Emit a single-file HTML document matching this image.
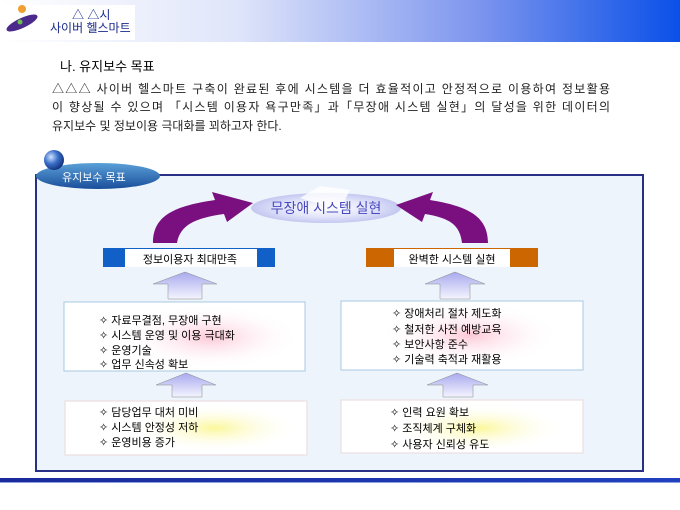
<!DOCTYPE html>
<html><head><meta charset="utf-8"><style>
body{margin:0;width:680px;height:510px;background:#fff;overflow:hidden;font-family:"Liberation Sans","Noto Sans CJK KR",sans-serif}
</style></head><body>
<svg width="680" height="510" viewBox="0 0 680 510" xmlns="http://www.w3.org/2000/svg" style="position:absolute;left:0;top:0;font-family:'Liberation Sans','Noto Sans CJK KR',sans-serif">
<defs>
<linearGradient id="hdr" x1="0" x2="1"><stop offset="0" stop-color="#fff"/><stop offset="0.35" stop-color="#dfe5fa"/><stop offset="0.7" stop-color="#7e96ee"/><stop offset="1" stop-color="#0a50e8"/></linearGradient>
<linearGradient id="line" x1="0" x2="1"><stop offset="0" stop-color="#1a2a9a"/><stop offset="1" stop-color="#2040c0"/></linearGradient>
<linearGradient id="tab" x1="0" y1="0" x2="0" y2="1"><stop offset="0" stop-color="#5aa0d8"/><stop offset="1" stop-color="#1a4e9a"/></linearGradient>
<radialGradient id="sph" cx="0.35" cy="0.35" r="0.7"><stop offset="0" stop-color="#cfe2ff"/><stop offset="0.5" stop-color="#3a6fc8"/><stop offset="1" stop-color="#12307a"/></radialGradient>
<radialGradient id="ell" cx="0.5" cy="0.5" r="0.5"><stop offset="0" stop-color="#ffffff"/><stop offset="0.6" stop-color="#e2e4fa"/><stop offset="1" stop-color="#c4c8f0"/></radialGradient>
<linearGradient id="up" x1="0" y1="0" x2="0" y2="1"><stop offset="0" stop-color="#a9a9ee"/><stop offset="1" stop-color="#f4f4ff"/></linearGradient>
<radialGradient id="pink" cx="0.5" cy="0.5" r="0.5"><stop offset="0" stop-color="#fcc8d8"/><stop offset="1" stop-color="#fff" stop-opacity="0"/></radialGradient>
<radialGradient id="yel" cx="0.5" cy="0.5" r="0.5"><stop offset="0" stop-color="#fbf79a"/><stop offset="1" stop-color="#fff" stop-opacity="0"/></radialGradient>
</defs>
<rect x="0" y="0" width="680" height="42" fill="url(#hdr)"/>
<rect x="0" y="5" width="135" height="35" fill="#fff"/>
<ellipse cx="22" cy="23" rx="17" ry="5" transform="rotate(-25 22 23)" fill="#4b2a8c"/>
<circle cx="22" cy="9" r="4" fill="#f0a030"/>
<circle cx="20" cy="22" r="2.5" fill="#6ac04a"/>
<text x="72" y="19" font-size="12" fill="#1a2a8a">△ △시</text>
<text x="50" y="32" font-size="12" fill="#1a2a8a">사이버 헬스마트</text>

<text x="60" y="71" font-size="13" fill="#000">나. 유지보수 목표</text>
<text x="52" y="93" font-size="12" fill="#222" textLength="558">△△△ 사이버 헬스마트 구축이 완료된 후에 시스템을 더 효율적이고 안정적으로 이용하여 정보활용</text>
<text x="52" y="111" font-size="12" fill="#222" textLength="558">이 향상될 수 있으며 「시스템 이용자 욕구만족」과「무장애 시스템 실현」의 달성을 위한 데이터의</text>
<text x="52" y="130" font-size="12" fill="#222">유지보수 및 정보이용 극대화를 꾀하고자 한다.</text>

<rect x="36" y="175" width="607" height="296" fill="#eef4fb" stroke="#2a2f86" stroke-width="2"/>
<ellipse cx="98" cy="176" rx="62" ry="13" fill="url(#tab)"/>
<circle cx="54" cy="160" r="10" fill="url(#sph)"/>
<text x="62" y="181" font-size="11" fill="#fff">유지보수 목표</text>

<ellipse cx="326" cy="208" rx="75" ry="15" fill="url(#ell)"/>
<path d="M300 198 l20 -12 l30 4 l-10 20 z" fill="#fff" opacity="0.8"/>
<text x="326" y="213" font-size="14" fill="#4848c0" text-anchor="middle">무장애 시스템 실현</text>

<path d="M153 243 C153 215 175 206 215 200 L212 192 L253 203 L227 222 L224 214 C195 218 180 225 177 243 Z" fill="#7a1080"/>
<path d="M488 243 C488 215 466 206 430 200 L433 192 L396 205 L422 222 L425 214 C450 218 460 225 462 243 Z" fill="#7a1080"/>

<rect x="103" y="248" width="172" height="19" fill="#1060c8"/>
<rect x="125" y="249" width="132" height="18" fill="#fff"/>
<text x="190" y="263" font-size="11" fill="#000" text-anchor="middle">정보이용자 최대만족</text>
<rect x="366" y="248" width="172" height="19" fill="#cc6600"/>
<rect x="394" y="249" width="116" height="18" fill="#fff"/>
<text x="452" y="263" font-size="11" fill="#000" text-anchor="middle">완벽한 시스템 실현</text>

<g fill="url(#up)" stroke="#888" stroke-width="0.5">
<path d="M153 284 L185 272 L217 284 L202 284 L202 299 L168 299 L168 284 Z"/>
<path d="M425 284 L455 272 L485 284 L470 284 L470 299 L440 299 L440 284 Z"/>
<path d="M156 385 L186 373 L216 385 L202 385 L202 397 L172 397 L172 385 Z"/>
<path d="M427 385 L457 373 L488 385 L473 385 L473 397 L443 397 L443 385 Z"/>
</g>

<rect x="64" y="302" width="241" height="69" fill="#fff" stroke="#a8c8e0"/>
<ellipse cx="210" cy="337" rx="90" ry="32" fill="url(#pink)"/>
<rect x="341" y="301" width="242" height="69" fill="#fff" stroke="#a8c8e0"/>
<ellipse cx="470" cy="335" rx="90" ry="32" fill="url(#pink)"/>
<rect x="65" y="401" width="242" height="54" fill="#fff" stroke="#eadada"/>
<ellipse cx="215" cy="428" rx="85" ry="24" fill="url(#yel)"/>
<rect x="341" y="400" width="242" height="53" fill="#fff" stroke="#eadada"/>
<ellipse cx="480" cy="428" rx="85" ry="24" fill="url(#yel)"/>

<g font-size="11" fill="#000">
<text x="99" y="324">✧ 자료무결점, 무장애 구현</text>
<text x="99" y="339">✧ 시스템 운영 및 이용 극대화</text>
<text x="99" y="354">✧ 운영기술</text>
<text x="99" y="368">✧ 업무 신속성 확보</text>
<text x="392" y="317">✧ 장애처리 절차 제도화</text>
<text x="392" y="333">✧ 철저한 사전 예방교육</text>
<text x="392" y="348">✧ 보안사항 준수</text>
<text x="392" y="363">✧ 기술력 축적과 재활용</text>
<text x="99" y="416">✧ 담당업무 대처 미비</text>
<text x="99" y="431">✧ 시스템 안정성 저하</text>
<text x="99" y="446">✧ 운영비용 증가</text>
<text x="390" y="416">✧ 인력 요원 확보</text>
<text x="390" y="432">✧ 조직체계 구체화</text>
<text x="390" y="448">✧ 사용자 신뢰성 유도</text>
</g>

<rect x="0" y="478" width="680" height="4" fill="url(#line)"/>
<rect x="0" y="482" width="680" height="1" fill="#8da0e0"/>
</svg>
</body></html>
